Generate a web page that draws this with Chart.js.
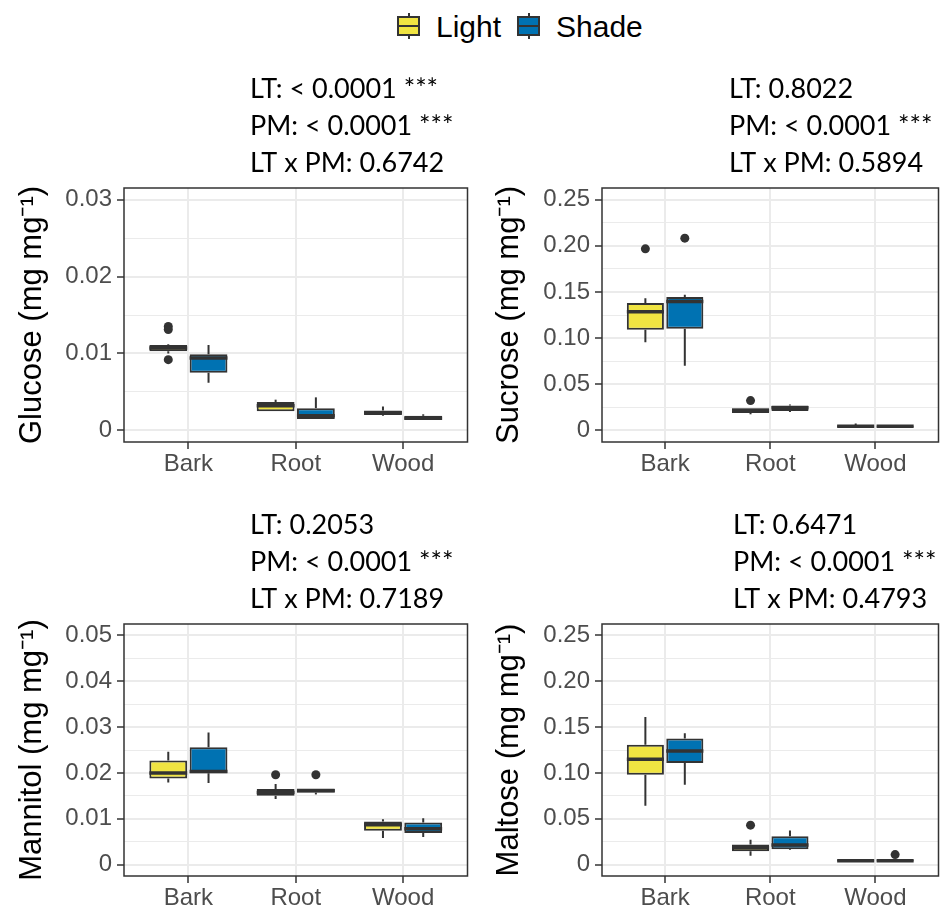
<!DOCTYPE html>
<html>
<head>
<meta charset="utf-8">
<script src="https://cdn.jsdelivr.net/npm/chart.js@4.4.1/dist/chart.umd.min.js"></script>
<style>
  body { margin: 0; background: #fff; width: 943px; height: 906px; position: relative; overflow: hidden;
         font-family: 'Liberation Sans', Arial, sans-serif; }
  canvas { position: absolute; }
  .key { position: absolute; top: 13px; width: 23px; height: 26px; }
  .key .wh { position: absolute; left: 10.5px; top: 0; width: 2px; height: 26px; background: #333; }
  .key .box { position: absolute; left: 0; top: 3px; width: 19px; height: 16px; border: 2px solid #333; }
  .key .med { position: absolute; left: 0; top: 12px; width: 23px; height: 2px; background: #333; }
  .lab { position: absolute; top: 12px; font-size: 30px; line-height: 30px; color: #000; }
</style>
</head>
<body>
<div class="key" style="left:397px"><div class="wh"></div><div class="box" style="background:#F0E442"></div><div class="med"></div></div>
<span class="lab" style="left:436px">Light</span>
<div class="key" style="left:517px"><div class="wh"></div><div class="box" style="background:#0072B2"></div><div class="med"></div></div>
<span class="lab" style="left:556px">Shade</span>

<canvas id="c1" width="472" height="425" style="left:0;top:60px"></canvas>
<canvas id="c2" width="471" height="425" style="left:472px;top:60px"></canvas>
<canvas id="c3" width="472" height="416" style="left:0;top:490px"></canvas>
<canvas id="c4" width="471" height="416" style="left:472px;top:490px"></canvas>

<script>
// categories and groups
const categories = ['Bark', 'Root', 'Wood']
const seriesNames = ['Light', 'Shade']
const seriesColors = ['#F0E442', '#0072B2']

// box stats per category: [lower whisker, q1, median, q3, upper whisker]
const glucoseLight = [[0.0100, 0.0103, 0.0107, 0.0111, 0.0112], [0.0025, 0.0025, 0.0032, 0.0037, 0.0040], [0.0019, 0.0020, 0.0023, 0.0026, 0.0031]]
const glucoseShade = [[0.0062, 0.0075, 0.0094, 0.0099, 0.0111], [0.0015, 0.0015, 0.0019, 0.0029, 0.0043], [0.0014, 0.0014, 0.0016, 0.0019, 0.0021]]
const glucoseLightOut = [[0.0135, 0.0131, 0.0092], [], []]
const glucoseShadeOut = [[], [], []]

const sucroseLight = [[0.0955, 0.109, 0.1286, 0.138, 0.143], [0.0175, 0.019, 0.0215, 0.024, 0.024], [0.003, 0.0035, 0.0045, 0.0055, 0.0075]]
const sucroseShade = [[0.070, 0.110, 0.1395, 0.1446, 0.147], [0.020, 0.021, 0.0245, 0.027, 0.028], [0.003, 0.0035, 0.0045, 0.005, 0.006]]
const sucroseLightOut = [[0.1966], [0.0323], []]
const sucroseShadeOut = [[0.2082], [], []]

const mannitolLight = [[0.0179, 0.0188, 0.0200, 0.0227, 0.0246], [0.0143, 0.0150, 0.0157, 0.0165, 0.0176], [0.0058, 0.0074, 0.0087, 0.0094, 0.0099]]
const mannitolShade = [[0.0178, 0.0199, 0.0203, 0.0256, 0.0288], [0.0153, 0.0157, 0.0161, 0.0166, 0.0166], [0.0060, 0.0069, 0.0078, 0.0092, 0.0101]]
const mannitolLightOut = [[], [0.0196], []]
const mannitolShadeOut = [[], [0.0196], []]

const maltoseLight = [[0.0641, 0.0979, 0.1150, 0.1307, 0.1609], [0.0095, 0.0146, 0.0182, 0.0218, 0.027], [0.003, 0.0035, 0.0042, 0.005, 0.0055]]
const maltoseShade = [[0.087, 0.1107, 0.1238, 0.1376, 0.1434], [0.016, 0.0168, 0.0212, 0.031, 0.0371], [0.003, 0.0035, 0.0042, 0.005, 0.0055]]
const maltoseLightOut = [[], [0.043], []]
const maltoseShadeOut = [[], [], [0.0109]]

// tick values and labels
const glucoseTicks = [0, 0.01, 0.02, 0.03]
const glucoseTickLabels = ['0', '0.01', '0.02', '0.03']
const sucroseTicks = [0, 0.05, 0.10, 0.15, 0.20, 0.25]
const sucroseTickLabels = ['0', '0.05', '0.10', '0.15', '0.20', '0.25']
const mannitolTicks = [0, 0.01, 0.02, 0.03, 0.04, 0.05]
const mannitolTickLabels = ['0', '0.01', '0.02', '0.03', '0.04', '0.05']
const maltoseTicks = [0, 0.05, 0.10, 0.15, 0.20, 0.25]
const maltoseTickLabels = ['0', '0.05', '0.10', '0.15', '0.20', '0.25']

// significance notes
const glucoseStats = ['LT: < 0.0001 ***', 'PM: < 0.0001 ***', 'LT x PM: 0.6742']
const sucroseStats = ['LT: 0.8022', 'PM: < 0.0001 ***', 'LT x PM: 0.5894']
const mannitolStats = ['LT: 0.2053', 'PM: < 0.0001 ***', 'LT x PM: 0.7189']
const maltoseStats = ['LT: 0.6471', 'PM: < 0.0001 ***', 'LT x PM: 0.4793']

const FONT = "'Liberation Sans', Arial, sans-serif"
const NOTE_FONT = "27px Lato, 'Open Sans', sans-serif"
const DARK = '#333333'
const DODGE = 0.1875
const noteY = [-90, -53, -16]

const panels = [
    { id: 'c1', title: 'Glucose (mg mg⁻¹)', light: glucoseLight, shade: glucoseShade, lightOut: glucoseLightOut, shadeOut: glucoseShadeOut,
      ticks: glucoseTicks, tickLabels: glucoseTickLabels, stats: glucoseStats, padTop: 128, padRight: 3, yW: 124, xH: 43, titlePad: 14, noteX: 126 },
    { id: 'c2', title: 'Sucrose (mg mg⁻¹)', light: sucroseLight, shade: sucroseShade, lightOut: sucroseLightOut, shadeOut: sucroseShadeOut,
      ticks: sucroseTicks, tickLabels: sucroseTickLabels, stats: sucroseStats, padTop: 128, padRight: 4, yW: 130, xH: 43, titlePad: 19, noteX: 127 },
    { id: 'c3', title: 'Mannitol (mg mg⁻¹)', light: mannitolLight, shade: mannitolShade, lightOut: mannitolLightOut, shadeOut: mannitolShadeOut,
      ticks: mannitolTicks, tickLabels: mannitolTickLabels, stats: mannitolStats, padTop: 134, padRight: 3, yW: 124, xH: 30, titlePad: 14, noteX: 126 },
    { id: 'c4', title: 'Maltose (mg mg⁻¹)', light: maltoseLight, shade: maltoseShade, lightOut: maltoseLightOut, shadeOut: maltoseShadeOut,
      ticks: maltoseTicks, tickLabels: maltoseTickLabels, stats: maltoseStats, padTop: 134, padRight: 4, yW: 130, xH: 30, titlePad: 19, noteX: 131 }
]

// whiskers behind boxes, medians on top, then frame + notes
const boxPlot = {
    id: 'boxPlot',
    beforeDatasetsDraw(chart) {
        const ctx = chart.ctx, y = chart.scales.y
        ctx.save()
        ctx.strokeStyle = DARK
        ctx.lineWidth = 2
        chart.data.datasets.forEach((ds, d) => {
            if (!ds.stats) return
            chart.getDatasetMeta(d).data.forEach((bar, i) => {
                const s = ds.stats[i]
                ctx.beginPath()
                ctx.moveTo(bar.x, y.getPixelForValue(s[0]))
                ctx.lineTo(bar.x, y.getPixelForValue(s[1]))
                ctx.moveTo(bar.x, y.getPixelForValue(s[3]))
                ctx.lineTo(bar.x, y.getPixelForValue(s[4]))
                ctx.stroke()
            })
        })
        ctx.restore()
    },
    afterDatasetsDraw(chart) {
        const ctx = chart.ctx, y = chart.scales.y
        ctx.save()
        ctx.strokeStyle = DARK
        ctx.lineWidth = 3.5
        chart.data.datasets.forEach((ds, d) => {
            if (!ds.stats) return
            chart.getDatasetMeta(d).data.forEach((bar, i) => {
                const m = y.getPixelForValue(ds.stats[i][2])
                ctx.beginPath()
                ctx.moveTo(bar.x - bar.width / 2, m)
                ctx.lineTo(bar.x + bar.width / 2, m)
                ctx.stroke()
            })
        })
        ctx.restore()
    },
    afterDraw(chart, args, opts) {
        const ctx = chart.ctx, a = chart.chartArea
        ctx.save()
        ctx.strokeStyle = DARK
        ctx.lineWidth = 1.5
        ctx.strokeRect(a.left, a.top, a.right - a.left, a.bottom - a.top)
        ctx.font = NOTE_FONT
        ctx.fillStyle = '#000'
        ctx.textBaseline = 'alphabetic'
        opts.lines.forEach((t, k) => ctx.fillText(t, a.left + opts.x, a.top + noteY[k]))
        ctx.restore()
    }
}

function drawPanel(p) {
    const first = p.ticks[0], last = p.ticks[p.ticks.length - 1]
    const pad = (last - first) * 0.05
    const minor = p.ticks.slice(1).map((t, i) => (t + p.ticks[i]) / 2)
    const allTicks = [...p.ticks, ...minor].sort((a, b) => a - b)
    const majorIdx = v => p.ticks.findIndex(t => Math.abs(t - v) < 1e-9)
    const boxes = s => s.map((b, i) => ({ x: i + 1, y: [b[1], b[3]] }))
    const outs = (o, off) => o.flatMap((vals, i) => vals.map(v => ({ x: i + 1 + off, y: v })))

    new Chart(document.getElementById(p.id), {
        type: 'bar',
        data: {
            datasets: [
                { label: seriesNames[0], data: boxes(p.light), stats: p.light, backgroundColor: seriesColors[0],
                  borderColor: DARK, borderWidth: 2, borderSkipped: false, categoryPercentage: 0.75, barPercentage: 0.94 },
                { label: seriesNames[1], data: boxes(p.shade), stats: p.shade, backgroundColor: seriesColors[1],
                  borderColor: DARK, borderWidth: 2, borderSkipped: false, categoryPercentage: 0.75, barPercentage: 0.94 },
                { type: 'scatter', data: [...outs(p.lightOut, -DODGE), ...outs(p.shadeOut, DODGE)],
                  pointRadius: 4.5, backgroundColor: DARK, borderWidth: 0 }
            ]
        },
        options: {
            responsive: false,
            animation: false,
            events: [],
            layout: { padding: { top: p.padTop, right: p.padRight, left: 0, bottom: 0 } },
            plugins: {
                legend: { display: false },
                tooltip: { enabled: false },
                boxPlot: { lines: p.stats, x: p.noteX }
            },
            scales: {
                x: {
                    type: 'linear', min: 0.4, max: 3.6, offset: false,
                    afterBuildTicks: s => { s.ticks = categories.map((c, i) => ({ value: i + 1 })) },
                    afterFit: s => { s.height = p.xH },
                    ticks: { callback: v => categories[v - 1] ?? '', color: '#4D4D4D', font: { family: FONT, size: 24 },
                             autoSkip: false, maxRotation: 0, padding: 1 },
                    grid: { color: '#EBEBEB', lineWidth: 2, tickLength: 7, tickColor: DARK, tickWidth: 1.5, offset: false },
                    border: { display: false }
                },
                y: {
                    min: first - pad, max: last + pad,
                    afterBuildTicks: s => { s.ticks = allTicks.map(v => ({ value: v })) },
                    afterFit: s => { s.width = p.yW },
                    ticks: { callback: v => { const k = majorIdx(v); return k < 0 ? '' : p.tickLabels[k] },
                             color: '#4D4D4D', font: { family: FONT, size: 24 }, autoSkip: false, padding: 5 },
                    grid: {
                        color: '#EBEBEB',
                        lineWidth: c => (c.tick && majorIdx(c.tick.value) >= 0) ? 2 : 1,
                        tickColor: c => (c.tick && majorIdx(c.tick.value) >= 0) ? DARK : 'rgba(0,0,0,0)',
                        tickLength: 7, tickWidth: 1.5
                    },
                    border: { display: false },
                    title: { display: true, text: p.title, color: '#000', font: { family: FONT, size: 31 },
                             padding: { top: p.titlePad, bottom: 0 } }
                }
            }
        },
        plugins: [boxPlot]
    })
}

panels.forEach(drawPanel)
</script>
</body>
</html>
